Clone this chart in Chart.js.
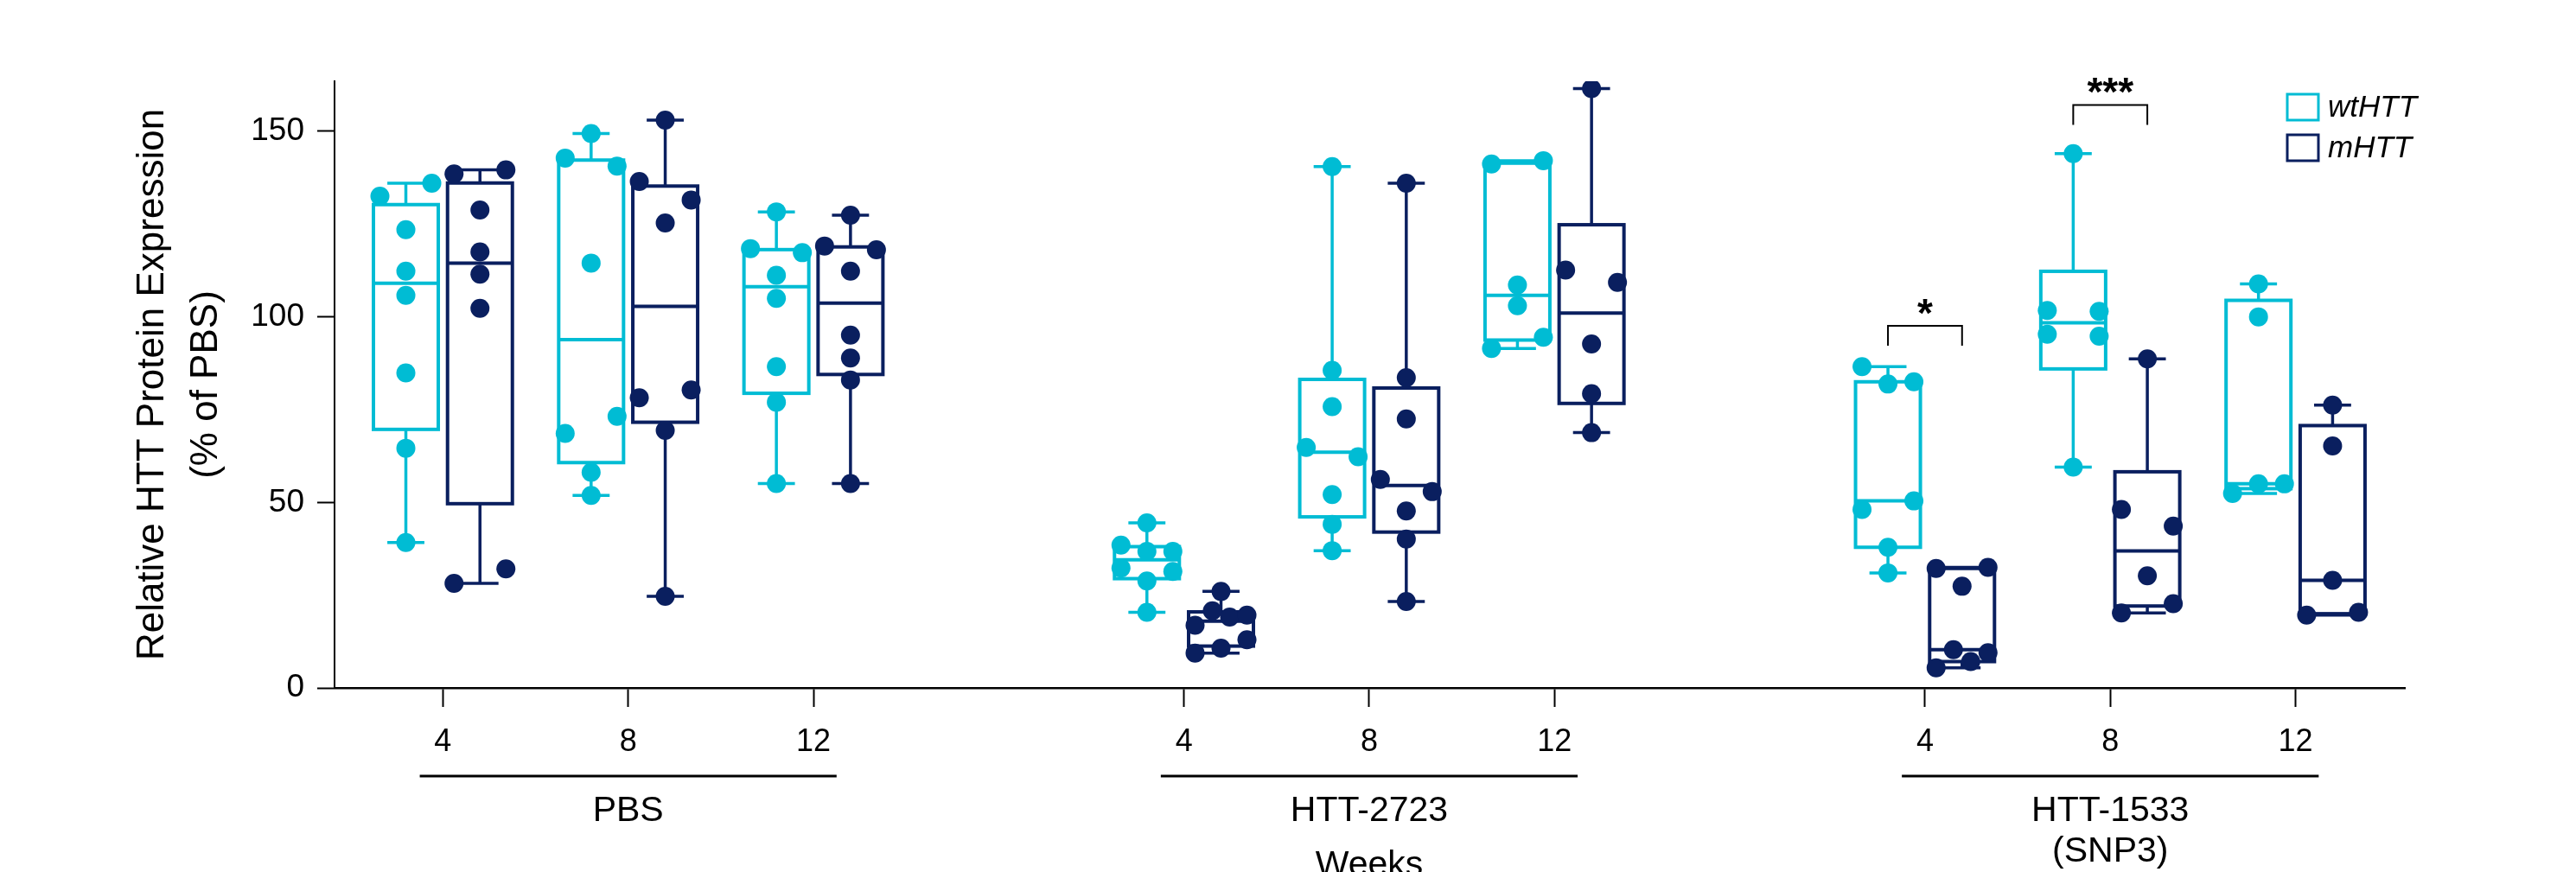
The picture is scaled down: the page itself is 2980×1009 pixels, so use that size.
<!DOCTYPE html>
<html>
<head>
<meta charset="utf-8">
<title>Relative HTT Protein Expression</title>
<script src="https://cdn.jsdelivr.net/npm/chart.js@4.4.1/dist/chart.umd.min.js"></script>
<style>
  html, body { margin: 0; padding: 0; background: #fff; }
  #wrap { width: 2980px; height: 1009px; }
</style>
</head>
<body>
<div id="wrap"><canvas id="chart"></canvas></div>
<script>
// groups along the x axis, each with three time points
const groups = [['PBS'], ['HTT-2723'], ['HTT-1533', '(SNP3)']];
const weeks = ['4', '8', '12'];
const seriesNames = ['wtHTT', 'mHTT'];

// one array per box: PBS 4/8/12, HTT-2723 4/8/12, HTT-1533 4/8/12
const wtHTT = [
  [132.5, 136.0, 123.5, 112.3, 105.8, 84.9, 64.6, 39.2],
  [149.4, 142.8, 140.6, 114.5, 68.6, 73.2, 58.1, 51.9],
  [128.3, 118.4, 117.3, 111.2, 105.0, 86.6, 77.0, 55.1],
  [44.5, 38.5, 36.8, 36.8, 32.3, 28.8, 31.4, 20.4],
  [140.5, 85.6, 75.8, 64.8, 62.3, 52.1, 44.1, 37.0],
  [141.2, 142.1, 108.6, 103.0, 91.5, 94.5],
  [86.6, 81.9, 82.5, 48.1, 50.4, 37.9, 31.0],
  [144.0, 101.7, 101.5, 95.3, 94.8, 59.5],
  [108.9, 100.0, 52.4, 55.0, 55.0]
];
const mHTT = [
  [138.5, 139.6, 128.8, 117.5, 111.5, 102.3, 28.2, 32.1],
  [153.0, 136.5, 131.5, 125.3, 78.2, 80.3, 69.4, 24.7],
  [127.4, 119.1, 118.1, 112.3, 95.1, 88.9, 83.0, 55.1],
  [26.0, 16.9, 20.8, 19.1, 19.6, 9.4, 10.7, 13.0],
  [136.0, 83.6, 72.5, 56.2, 52.9, 47.7, 40.1, 23.3],
  [161.5, 112.6, 109.3, 92.7, 79.3, 68.8],
  [32.2, 27.4, 32.5, 5.4, 10.3, 7.1, 9.5],
  [88.7, 48.1, 43.6, 30.2, 20.2, 22.7],
  [76.2, 65.2, 29.0, 19.6, 20.4]
];

const yTicks = [0, 50, 100, 150];
const yMax = 163.5;

// brackets between wtHTT and mHTT of one box pair
const significance = [
  { slot: 6, y: 97.6, label: '*' },
  { slot: 7, y: 157.1, label: '***' }
];

const colors = ['#00bcd4', '#0a1f5f'];
const FONT = "'Liberation Sans', Arial, sans-serif";
const BOX_OFFSET = [-0.2, 0.2];
const BOX_HALF = 0.175;
const CAP_HALF = 0.1;
const SPREAD = 0.14;
const CLUSTER_GAP = 5.15;

function slotPos(i) { return Math.floor(i / 3) * 4 + (i % 3); }

// percentile the way Prism does it: rank p*(n+1)
function quantile(asc, p) {
  const n = asc.length;
  const pos = p * (n + 1);
  if (pos <= 1) return asc[0];
  if (pos >= n) return asc[n - 1];
  const lo = Math.floor(pos);
  return asc[lo - 1] + (pos - lo) * (asc[lo] - asc[lo - 1]);
}

function stats(vals) {
  const asc = vals.slice().sort((a, b) => a - b);
  return {
    min: asc[0], max: asc[asc.length - 1],
    q1: quantile(asc, 0.25), med: quantile(asc, 0.5), q3: quantile(asc, 0.75)
  };
}

// spread points with close values side by side
function spreadX(values, center) {
  const order = values.map((v, i) => i).sort((a, b) => values[b] - values[a]);
  const xs = values.map(() => center);
  let k = 0;
  while (k < order.length) {
    const start = values[order[k]];
    let end = k + 1;
    while (end < order.length && start - values[order[end]] < CLUSTER_GAP) end++;
    const members = order.slice(k, end).sort((a, b) => a - b);
    const n = members.length;
    if (n > 1) members.forEach((idx, j) => { xs[idx] = center - SPREAD + 2 * SPREAD * j / (n - 1); });
    k = end;
  }
  return xs;
}

function toPoints(series, s) {
  const pts = [];
  series.forEach((vals, i) => {
    const xs = spreadX(vals, slotPos(i) + BOX_OFFSET[s]);
    vals.forEach((v, j) => pts.push({ x: xs[j], y: v }));
  });
  return pts;
}

function line(ctx, x1, y1, x2, y2) {
  ctx.beginPath(); ctx.moveTo(x1, y1); ctx.lineTo(x2, y2); ctx.stroke();
}

const boxPlugin = {
  id: 'boxes',
  beforeDatasetsDraw(chart) {
    const { ctx, scales: { x, y } } = chart;
    [wtHTT, mHTT].forEach((series, s) => {
      series.forEach((vals, i) => {
        const st = stats(vals);
        const c = slotPos(i) + BOX_OFFSET[s];
        const px = x.getPixelForValue(c);
        const l = x.getPixelForValue(c - BOX_HALF), r = x.getPixelForValue(c + BOX_HALF);
        const cl = x.getPixelForValue(c - CAP_HALF), cr = x.getPixelForValue(c + CAP_HALF);
        ctx.save();
        ctx.strokeStyle = colors[s];
        ctx.lineWidth = 3.5;
        line(ctx, px, y.getPixelForValue(st.max), px, y.getPixelForValue(st.q3));
        line(ctx, px, y.getPixelForValue(st.q1), px, y.getPixelForValue(st.min));
        line(ctx, cl, y.getPixelForValue(st.max), cr, y.getPixelForValue(st.max));
        line(ctx, cl, y.getPixelForValue(st.min), cr, y.getPixelForValue(st.min));
        ctx.lineWidth = 4;
        const top = y.getPixelForValue(st.q3), bot = y.getPixelForValue(st.q1);
        ctx.strokeRect(l, top, r - l, bot - top);
        line(ctx, l, y.getPixelForValue(st.med), r, y.getPixelForValue(st.med));
        ctx.restore();
      });
    });
  }
};

const annotatePlugin = {
  id: 'annotate',
  afterDraw(chart) {
    const { ctx, chartArea, scales: { x, y } } = chart;
    ctx.save();
    // significance brackets
    ctx.strokeStyle = '#000';
    ctx.fillStyle = '#000';
    ctx.lineWidth = 2;
    significance.forEach(sg => {
      const p = slotPos(sg.slot);
      const l = x.getPixelForValue(p + BOX_OFFSET[0]), r = x.getPixelForValue(p + BOX_OFFSET[1]);
      const t = y.getPixelForValue(sg.y);
      ctx.beginPath();
      ctx.moveTo(l, t + 23); ctx.lineTo(l, t); ctx.lineTo(r, t); ctx.lineTo(r, t + 23);
      ctx.stroke();
      ctx.font = 'bold 46px ' + FONT;
      ctx.textAlign = 'center';
      ctx.textBaseline = 'alphabetic';
      ctx.fillText(sg.label, (l + r) / 2, t + 1);
    });

    // group labels under the week ticks
    const lineY = chartArea.bottom + 102;
    ctx.lineWidth = 3;
    ctx.font = '41px ' + FONT;
    ctx.textAlign = 'center';
    groups.forEach((g, gi) => {
      const a = x.getPixelForValue(gi * 4 - 0.125), b = x.getPixelForValue(gi * 4 + 2.125);
      line(ctx, a, lineY, b, lineY);
      const cx = x.getPixelForValue(gi * 4 + 1);
      g.forEach((txt, k) => ctx.fillText(txt, cx, lineY + 52 + k * 47));
    });
    ctx.fillText('Weeks', x.getPixelForValue(5), lineY + 115);

    // legend
    const lx = chartArea.right - 136;
    seriesNames.forEach((name, s) => {
      const ty = chartArea.top + 15 + s * 47;
      ctx.strokeStyle = colors[s];
      ctx.lineWidth = 3;
      ctx.strokeRect(lx, ty, 36, 30);
      ctx.fillStyle = '#000';
      ctx.font = 'italic 35px ' + FONT;
      ctx.textAlign = 'left';
      ctx.textBaseline = 'middle';
      ctx.fillText(name, lx + 47, ty + 16);
    });
    ctx.restore();
  }
};

new Chart(document.getElementById('chart'), {
  type: 'scatter',
  data: {
    datasets: [wtHTT, mHTT].map((series, s) => ({
      label: seriesNames[s],
      data: toPoints(series, s),
      backgroundColor: colors[s],
      borderWidth: 0,
      pointRadius: 11,
      pointHoverRadius: 11
    }))
  },
  options: {
    responsive: true,
    maintainAspectRatio: false,
    animation: false,
    devicePixelRatio: 1,
    layout: { padding: { left: 0, right: 198, top: 94, bottom: 0 } },
    plugins: { legend: { display: false }, tooltip: { enabled: false } },
    scales: {
      x: {
        type: 'linear',
        min: -0.585,
        max: 10.59,
        afterBuildTicks: s => { s.ticks = weeks.flatMap((w, k) => groups.map((g, gi) => ({ value: gi * 4 + k }))).sort((a, b) => a.value - b.value); },
        afterFit: s => { s.height = 213; },
        ticks: {
          callback: v => weeks[v % 4],
          font: { size: 36, family: FONT },
          color: '#000',
          padding: 19,
          autoSkip: false,
          maxRotation: 0
        },
        grid: { drawOnChartArea: false, tickLength: 22, tickWidth: 2, tickColor: '#000' },
        border: { display: true, color: '#000', width: 2.5 }
      },
      y: {
        min: 0,
        max: yMax,
        afterBuildTicks: s => { s.ticks = yTicks.map(v => ({ value: v })); },
        afterFit: s => { s.width = 387; },
        ticks: { font: { size: 37, family: FONT }, color: '#000', padding: 15 },
        grid: { drawOnChartArea: false, tickLength: 20, tickWidth: 2, tickColor: '#000' },
        border: { display: true, color: '#000', width: 2 },
        title: {
          display: true,
          text: ['Relative HTT Protein Expression', '(% of PBS)'],
          font: { size: 44, family: FONT, lineHeight: 1.4 },
          color: '#000',
          padding: { top: 146, bottom: 0 }
        }
      }
    }
  },
  plugins: [boxPlugin, annotatePlugin]
});
</script>
</body>
</html>
